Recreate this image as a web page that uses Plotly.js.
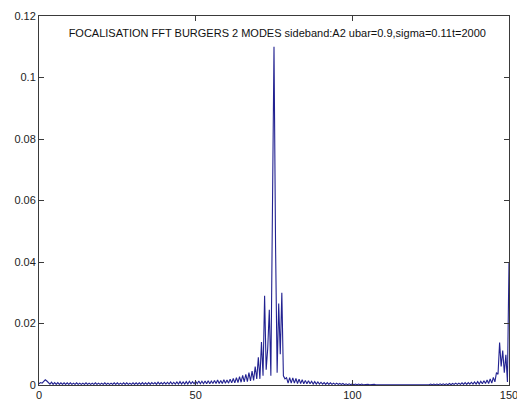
<!DOCTYPE html>
<html>
<head>
<meta charset="utf-8">
<script src="https://cdn.plot.ly/plotly-3.0.1.min.js"></script>
<style>
  html, body { margin: 0; padding: 0; background: #ffffff; }
  #chart { width: 517px; height: 402px; }
</style>
</head>
<body>
<div id="chart"></div>
<script>
// Sample spacing along the x axis (wavenumber index), samples start at 0
const xStart = 0;
const xStep = 0.5;

// FFT magnitude, x = 0, 0.5, 1, ... 150
const fftMagnitude = [
  // 0 - 9.5
  0.0004,0.0008,0.0006,0.0012,0.0017,0.0013,0.0008,0.0003,0.0009,0.0002,0.0008,0.0002,0.0008,0.0002,0.0007,0.0002,0.0007,0.0002,0.0007,0.0002,
  // 10 - 19.5
  0.0007,0.0002,0.0006,0.0002,0.0007,0.0002,0.0006,0.0002,0.0006,0.0002,0.0007,0.0002,0.0006,0.0002,0.0006,0.0002,0.0007,0.0002,0.0006,0.0002,
  // 20 - 29.5
  0.0006,0.0002,0.0007,0.0002,0.0006,0.0002,0.0006,0.0002,0.0007,0.0002,0.0007,0.0002,0.0006,0.0002,0.0007,0.0002,0.0007,0.0002,0.0006,0.0002,
  // 30 - 39.5
  0.0007,0.0002,0.0007,0.0002,0.0007,0.0002,0.0008,0.0002,0.0007,0.0002,0.0008,0.0002,0.0008,0.0003,0.0008,0.0002,0.0009,0.0003,0.0008,0.0003,
  // 40 - 49.5
  0.0009,0.0003,0.0009,0.0003,0.0010,0.0003,0.0009,0.0003,0.0010,0.0003,0.0011,0.0003,0.0010,0.0003,0.0011,0.0003,0.0012,0.0004,0.0011,0.0004,
  // 50 - 59.5
  0.0012,0.0004,0.0013,0.0004,0.0012,0.0004,0.0013,0.0004,0.0014,0.0004,0.0013,0.0005,0.0015,0.0005,0.0016,0.0005,0.0015,0.0005,0.0017,0.0006,
  // 60 - 69.5
  0.0016,0.0006,0.0019,0.0007,0.0021,0.0007,0.0024,0.0008,0.0027,0.0009,0.0031,0.0010,0.0035,0.0011,0.0040,0.0013,0.0045,0.0015,0.0060,0.0020,
  // 70 - 79.5
  0.0090,0.0020,0.0140,0.0030,0.0290,0.0050,0.0120,0.0245,0.0030,0.0470,0.1100,0.0450,0.0040,0.0265,0.0100,0.0300,0.0030,0.0020,0.0024,0.0006,
  // 80 - 89.5
  0.0024,0.0006,0.0023,0.0006,0.0021,0.0005,0.0019,0.0005,0.0017,0.0004,0.0015,0.0004,0.0014,0.0004,0.0012,0.0003,0.0011,0.0003,0.0010,0.0003,
  // 90 - 99.5
  0.0009,0.0003,0.0008,0.0002,0.0008,0.0002,0.0007,0.0002,0.0006,0.0002,0.0006,0.0002,0.0005,0.0002,0.0005,0.0001,0.0004,0.0001,0.0004,0.0001,
  // 100 - 109.5
  0.0004,0.0001,0.0003,0.0001,0.0003,0.0001,0.0003,0.0001,0.0002,0.0001,0.0002,0.0001,0.0002,0.0001,0.0002,0.0001,0.0002,0.0001,0.0001,0.0001,
  // 110 - 119.5
  0.0001,0.0001,0.0001,0.0000,0.0001,0.0000,0.0001,0.0000,0.0001,0.0000,0.0001,0.0000,0.0001,0.0000,0.0001,0.0000,0.0001,0.0000,0.0001,0.0000,
  // 120 - 129.5
  0.0001,0.0000,0.0001,0.0001,0.0002,0.0001,0.0002,0.0001,0.0002,0.0001,0.0003,0.0001,0.0003,0.0001,0.0003,0.0001,0.0004,0.0001,0.0004,0.0001,
  // 130 - 139.5
  0.0004,0.0001,0.0005,0.0001,0.0005,0.0002,0.0006,0.0002,0.0006,0.0002,0.0007,0.0002,0.0008,0.0002,0.0008,0.0003,0.0009,0.0003,0.0010,0.0003,
  // 140 - 149.5
  0.0011,0.0003,0.0012,0.0004,0.0014,0.0005,0.0016,0.0005,0.0020,0.0006,0.0025,0.0010,0.0040,0.0035,0.0138,0.0060,0.0112,0.0040,0.0098,0.0010,
  // 150
  0.0400
];

const xTickValues = [0, 50, 100, 150];
const xTickLabels = ['0', '50', '100', '150'];
const yTickValues = [0, 0.02, 0.04, 0.06, 0.08, 0.1, 0.12];
const yTickLabels = ['0', '0.02', '0.04', '0.06', '0.08', '0.1', '0.12'];

const chartTitle = 'FOCALISATION FFT BURGERS 2 MODES sideband:A2 ubar=0.9,sigma=0.11t=2000';

const xValues = fftMagnitude.map((_, i) => xStart + i * xStep);

const trace = {
  x: xValues,
  y: fftMagnitude,
  type: 'scatter',
  mode: 'lines',
  line: { color: 'rgb(34,34,145)', width: 1.1 },
  hoverinfo: 'skip'
};

const axisCommon = {
  showgrid: false,
  zeroline: false,
  showline: true,
  linecolor: '#3a3a3a',
  linewidth: 1,
  mirror: 'ticks',
  ticks: 'inside',
  ticklen: 5,
  tickwidth: 1,
  tickcolor: '#3a3a3a',
  tickfont: { family: 'Liberation Sans, Arial, sans-serif', size: 11, color: '#222222' },
  fixedrange: true
};

const layout = {
  width: 517,
  height: 402,
  margin: { l: 39, r: 8, t: 16, b: 17, pad: 0 },
  paper_bgcolor: '#ffffff',
  plot_bgcolor: '#ffffff',
  showlegend: false,
  title: {
    text: chartTitle,
    font: { family: 'Liberation Sans, Arial, sans-serif', size: 11, color: '#111111' },
    xref: 'paper',
    x: 0.507,
    xanchor: 'center',
    yref: 'container',
    y: 0.918,
    yanchor: 'middle'
  },
  xaxis: Object.assign({}, axisCommon, {
    range: [0, 150],
    tickmode: 'array',
    tickvals: xTickValues,
    ticktext: xTickLabels,
    ticklabeloverflow: 'allow'
  }),
  yaxis: Object.assign({}, axisCommon, {
    range: [0, 0.12],
    tickmode: 'array',
    tickvals: yTickValues,
    ticktext: yTickLabels
  })
};

Plotly.newPlot('chart', [trace], layout, { displayModeBar: false, staticPlot: true });
</script>
</body>
</html>
